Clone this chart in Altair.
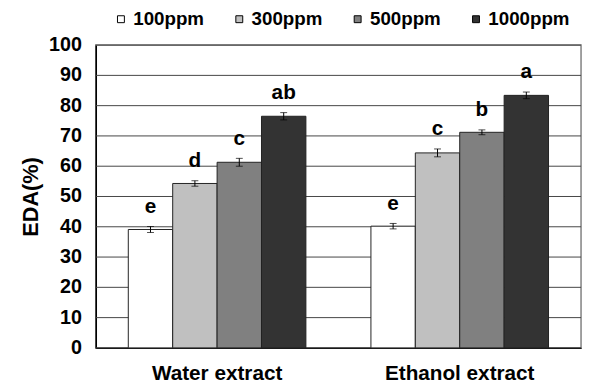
import altair as alt
import pandas as pd

extracts = ["Water extract", "Ethanol extract"]
ppm_levels = ["100ppm", "300ppm", "500ppm", "1000ppm"]
water_vals = [39.1, 54.3, 61.3, 76.5]
water_err = [1.0, 0.9, 1.3, 1.2]
ethanol_vals = [40.2, 64.4, 71.2, 83.4]
ethanol_err = [0.9, 1.3, 0.8, 1.1]
water_letters = ["e", "d", "c", "ab"]
ethanol_letters = ["e", "c", "b", "a"]
bar_colors = ["#FFFFFF", "#C0C0C0", "#808080", "#333333"]
y_ticks = [0, 10, 20, 30, 40, 50, 60, 70, 80, 90, 100]

rows = []
for ext, vals, errs, lets in [
    (extracts[0], water_vals, water_err, water_letters),
    (extracts[1], ethanol_vals, ethanol_err, ethanol_letters),
]:
    for p, v, e, l in zip(ppm_levels, vals, errs, lets):
        rows.append({"extract": ext, "ppm": p, "value": v,
                     "lo": v - e, "hi": v + e, "letter": l})
df = pd.DataFrame(rows)
ticks_df = pd.DataFrame({"tick": y_ticks})

FONT = "Liberation Sans"

x_axis = alt.Axis(title=None, labelAngle=0, labelFont=FONT,
                  labelFontSize=21, labelFontWeight="bold",
                  labelColor="black", labelPadding=15,
                  ticks=False, domainColor="black", domainWidth=1.5)
x_scale = alt.Scale(paddingInner=0.268, paddingOuter=0.134)
y_axis = alt.Axis(title="EDA(%)", labels=False, ticks=False, grid=False,
                  titleFont=FONT, titleFontSize=22,
                  titleFontWeight="bold", titleColor="black",
                  titlePadding=54, domainColor="black", domainWidth=1.5)
y_scale = alt.Scale(domain=[0, 100], nice=False)


def xe():
    return alt.X("extract:N", sort=extracts, scale=x_scale, axis=x_axis)


def ye(field):
    return alt.Y(field, scale=y_scale, axis=y_axis)


xo_enc = alt.XOffset("ppm:N", sort=ppm_levels,
                     scale=alt.Scale(paddingInner=0, paddingOuter=0))

grid = alt.Chart(ticks_df).mark_rule(color="#444444", strokeWidth=1).encode(
    y=ye("tick:Q"))
ylabels = alt.Chart(ticks_df).mark_text(
    font=FONT, fontSize=20, fontWeight="bold", color="black",
    align="right", baseline="middle").encode(
    x=alt.value(-14), y=ye("tick:Q"), text="tick:Q")

base = alt.Chart(df)

bars = base.mark_bar(stroke="#222222", strokeWidth=1).encode(
    x=xe(),
    xOffset=xo_enc,
    y=ye("value:Q"),
    fill=alt.Fill("ppm:N", sort=ppm_levels,
                  scale=alt.Scale(domain=ppm_levels, range=bar_colors),
                  legend=alt.Legend(title=None, orient="none",
                                    direction="horizontal", legendX=16,
                                    legendY=-36, symbolType="square",
                                    symbolSize=49, symbolStrokeColor="black",
                                    symbolStrokeWidth=1, labelFont=FONT,
                                    labelFontSize=19, labelFontWeight="bold",
                                    labelColor="black", labelOffset=3,
                                    columnPadding=26)),
)

err_rule = base.mark_rule(color="black", strokeWidth=1).encode(
    x=xe(), xOffset=xo_enc, y=ye("lo:Q"), y2="hi:Q")
cap_lo = base.mark_tick(color="black", size=7, thickness=1,
                        orient="horizontal").encode(
    x=xe(), xOffset=xo_enc, y=ye("lo:Q"))
cap_hi = base.mark_tick(color="black", size=7, thickness=1,
                        orient="horizontal").encode(
    x=xe(), xOffset=xo_enc, y=ye("hi:Q"))
letters = base.mark_text(font=FONT, fontSize=21, fontWeight="bold",
                         color="black", baseline="middle", dy=-20).encode(
    x=xe(), xOffset=xo_enc, y=ye("hi:Q"), text="letter:N")

chart = alt.layer(grid, bars, err_rule, cap_lo, cap_hi, letters,
                  ylabels).properties(
    width=492, height=307,
    autosize=alt.AutoSizeParams(type="none"),
    padding={"left": 89, "top": 35, "right": 3, "bottom": 34},
    background="white",
).configure_view(stroke="#808080", strokeWidth=1.5)

chart.save("out.html", embed_options={"renderer": "svg", "actions": False})
